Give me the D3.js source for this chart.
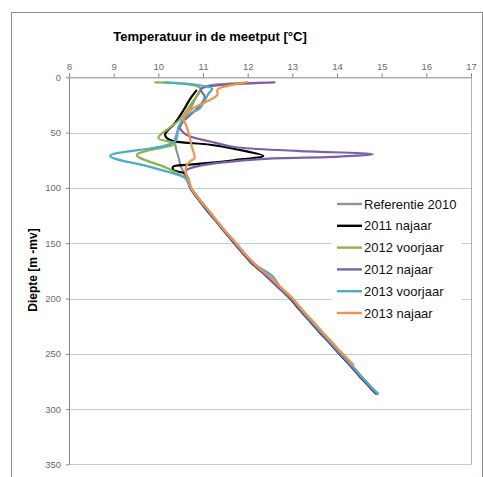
<!DOCTYPE html>
<html><head><meta charset="utf-8">
<script src="https://cdn.jsdelivr.net/npm/d3@7"></script>
<style>body{margin:0;background:#fff}svg{display:block;font-family:"Liberation Sans",Arial,sans-serif}</style>
</head><body><svg id="c" width="483" height="477"></svg>
<script>
const seriesNames = ["Referentie 2010","2011 najaar","2012 voorjaar","2012 najaar","2013 voorjaar","2013 najaar"];
const seriesColors = ["#929292","#000000","#8fb24a","#7b61a4","#4aaec4","#f5924a"];
const xTicks = [8,9,10,11,12,13,14,15,16,17];
const yTicks = [0,50,100,150,200,250,300,350];

const deepDepth = [100,110,120,130,140,150,160,170,180,190,200,210,220,230,240,250,260,270,280,286];

const refDepth = [5,9,14,20,30,40,50,57,65,72,80,87,95].concat(deepDepth);
const refTemp = [12.3,11.0,10.9,10.82,10.7,10.55,10.42,10.37,10.4,10.45,10.5,10.58,10.66,
  10.72,10.9,11.1,11.3,11.5,11.72,11.93,12.17,12.47,12.72,12.98,13.18,13.4,13.62,13.85,14.07,14.3,14.52,14.75,14.89];

const n2011Depth = [12,19,30,42,49,52,56.7,61,67,71,75,79,80.8,84,87,93].concat(deepDepth);
const n2011Temp = [10.85,10.72,10.56,10.36,10.19,10.15,10.26,11.16,11.98,12.35,11.7,10.7,10.33,10.34,10.6,10.68,
  10.72,10.89,11.08,11.29,11.49,11.7,11.91,12.14,12.44,12.69,12.95,13.16,13.38,13.6,13.83,14.05,14.28,14.5,14.73,14.87];

const v2012Depth = [4.5,10,23,38,45,55,60,70.3,82,91,96].concat(deepDepth);
const v2012Temp = [9.93,10.94,10.75,10.49,10.27,10.0,10.38,9.52,10.19,10.6,10.68,
  10.73,10.91,11.11,11.31,11.51,11.73,11.94,12.18,12.48,12.73,12.99,13.19,13.41,13.63,13.86,14.08,14.31,14.53,14.76,14.9];

const n2012Depth = [4.5,8.5,11,18,27,45,52,58,63,66.5,69.6,72,74,80,84,88,95].concat(deepDepth);
const n2012Temp = [12.6,11.08,10.95,11.04,10.9,10.48,10.63,11.16,11.7,13.1,14.8,13.9,12.3,10.93,10.63,10.6,10.68,
  10.71,10.89,11.09,11.29,11.49,11.71,11.91,12.15,12.42,12.68,12.96,13.17,13.39,13.61,13.84,14.06,14.29,14.51,14.74,14.88];

const v2013Depth = [4.5,10.3,15,28,35,45,58,71,81,91,96].concat(deepDepth);
const v2013Temp = [10.15,11.2,11.12,10.93,10.62,10.45,10.37,8.92,9.81,10.6,10.68,
  10.73,10.91,11.11,11.31,11.52,11.74,11.95,12.2,12.56,12.74,13.0,13.2,13.42,13.64,13.87,14.09,14.32,14.54,14.77,14.92];

const n2013Depth = [4.3,9.7,11.6,16,22,28,37,43,52,62.7,73,76,80.8,86.8,95,100,110,120,130,140,150,160,170,180,190,200,210,220,230,240,250,260];
const n2013Temp = [11.98,11.38,11.32,11.32,11.08,10.78,10.56,10.62,10.69,10.75,10.81,10.71,10.62,10.62,10.7,
  10.74,10.92,11.12,11.32,11.52,11.74,11.95,12.19,12.49,12.75,13.01,13.22,13.45,13.67,13.9,14.13,14.37];

const allDepth = [refDepth,n2011Depth,v2012Depth,n2012Depth,v2013Depth,n2013Depth];
const allTemp = [refTemp,n2011Temp,v2012Temp,n2012Temp,v2013Temp,n2013Temp];

const svg = d3.select("#c");
const L=69,R=471,T=77.3,B=464.4;
const x = d3.scaleLinear().domain([8,17]).range([L,R]);
const y = d3.scaleLinear().domain([0,350]).range([T,B]);

// chart border
svg.append("rect").attr("x",11.5).attr("y",12.5).attr("width",471).attr("height",475)
  .attr("fill","none").attr("stroke","#8c8c8c").attr("stroke-width",1);

// gridlines
svg.append("g").selectAll("line").data(yTicks.filter(d=>d>0)).join("line")
  .attr("x1",L).attr("x2",R).attr("y1",d=>Math.round(y(d))+0.5).attr("y2",d=>Math.round(y(d))+0.5)
  .attr("stroke","#b9cde5").attr("stroke-width",1.2);

// plot border right
svg.append("line").attr("x1",R+0.5).attr("x2",R+0.5).attr("y1",T).attr("y2",B)
  .attr("stroke","#b3b3b3");

// axes
const xAxis = svg.append("g").attr("transform",`translate(0,${T})`)
  .call(d3.axisTop(x).tickValues(xTicks).tickSize(4).tickSizeOuter(0).tickPadding(3));
const yAxis = svg.append("g").attr("transform",`translate(${L},0)`)
  .call(d3.axisLeft(y).tickValues(yTicks).tickSize(3).tickSizeOuter(0).tickPadding(5));
[xAxis,yAxis].forEach(a=>{
  a.select(".domain").attr("stroke","#868686");
  a.selectAll(".tick line").attr("stroke","#868686");
  a.selectAll(".tick text").attr("fill","#6b6b6b").attr("font-size","9.5px").attr("font-family","Liberation Sans, Arial, sans-serif");
});

// lines
const line = d3.line().curve(d3.curveCatmullRom.alpha(0.5));
allDepth.forEach((dep,i)=>{
  const pts = dep.map((d,j)=>[x(allTemp[i][j]), y(d)]);
  svg.append("path").attr("d",line(pts)).attr("fill","none")
    .attr("stroke",seriesColors[i]).attr("stroke-width",2.2).attr("stroke-linejoin","round").attr("stroke-linecap","round");
});

// legend
svg.append("rect").attr("x",332).attr("y",192).attr("width",130).attr("height",134).attr("fill","#fff");
const lg = svg.append("g");
seriesNames.forEach((s,i)=>{
  const yy = 204 + i*21.8;
  lg.append("line").attr("x1",337).attr("x2",362).attr("y1",yy).attr("y2",yy)
    .attr("stroke",seriesColors[i]).attr("stroke-width",2.4);
  lg.append("text").attr("x",364).attr("y",yy+4.6).attr("font-size","13px").attr("fill","#111").text(s);
});

// titles
svg.append("text").attr("x",210).attr("y",41).attr("text-anchor","middle")
  .attr("font-size","13px").attr("font-weight","bold").text("Temperatuur in de meetput [°C]");
svg.append("text").attr("transform","translate(37,270) rotate(-90)").attr("text-anchor","middle")
  .attr("font-size","12px").attr("font-weight","bold").text("Diepte [m -mv]");
</script></body></html>
